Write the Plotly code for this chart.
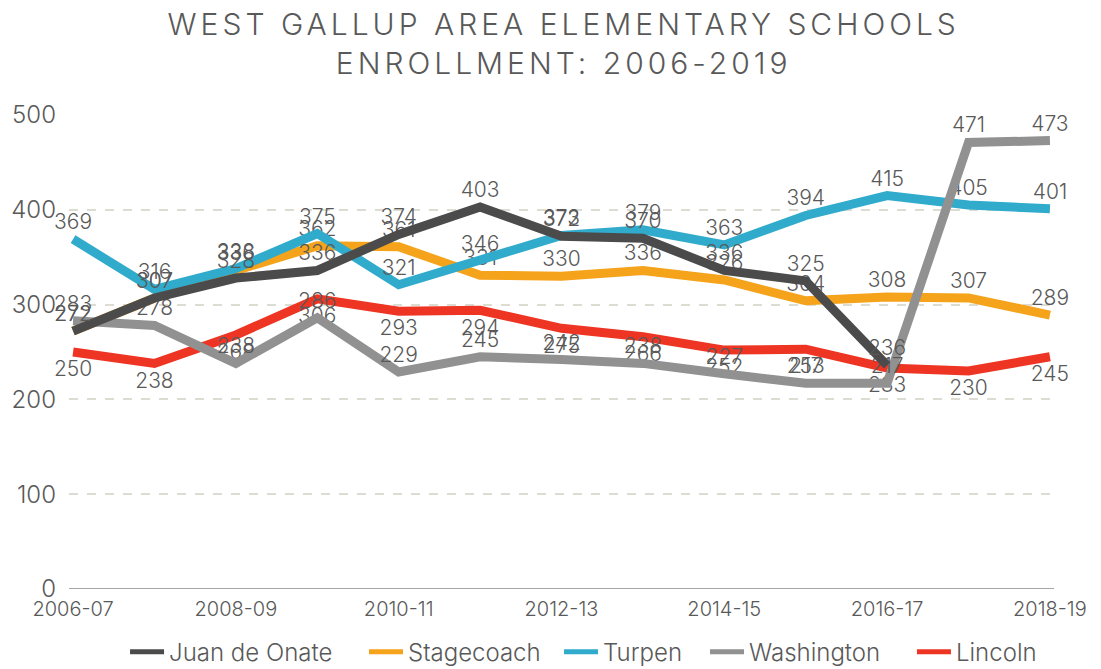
import plotly.graph_objects as go

years = ["2006-07", "2007-08", "2008-09", "2009-10", "2010-11", "2011-12", "2012-13",
         "2013-14", "2014-15", "2015-16", "2016-17", "2017-18", "2018-19"]
x_tick_labels = ["2006-07", "2008-09", "2010-11", "2012-13", "2014-15", "2016-17", "2018-19"]

juan_de_onate = [272, 307, 328, 336, 374, 403, 372, 370, 336, 325, 236, None, None]
stagecoach = [272, 307, 336, 362, 361, 331, 330, 336, 326, 304, 308, 307, 289]
turpen = [369, 316, 338, 375, 321, 346, 373, 379, 363, 394, 415, 405, 401]
washington = [283, 278, 238, 286, 229, 245, 242, 238, 227, 217, 217, 471, 473]
lincoln = [250, 238, 268, 306, 293, 294, 275, 266, 252, 253, 233, 230, 245]

series = [
    ("Juan de Onate", juan_de_onate, "#4b4b4b", "top center"),
    ("Stagecoach", stagecoach, "#f5a31a", "top center"),
    ("Turpen", turpen, "#31abcb", "top center"),
    ("Washington", washington, "#919191", "top center"),
    ("Lincoln", lincoln, "#ee3524", "bottom center"),
]
draw_order = ["Lincoln", "Stagecoach", "Turpen", "Washington", "Juan de Onate"]
legend_x = [0.0569, 0.2995, 0.4975, 0.6457, 0.8558]

FONT = "Inter, Lato, sans-serif"
TXT = "#595959"

fig = go.Figure()
lookup = {s[0]: s for s in series}
for name in draw_order:
    _, vals, color, pos = lookup[name]
    fig.add_trace(go.Scatter(
        x=years, y=vals, name=name, mode="lines+markers+text",
        line=dict(color=color, width=9),
        marker=dict(size=(12 if pos.startswith("bottom") else 6), opacity=0, color=color),
        text=[("" if v is None else str(v)) for v in vals],
        textposition=pos,
        textfont=dict(family=FONT, size=21, color=TXT, weight=300),
        showlegend=False,
        connectgaps=False,
        cliponaxis=False,
    ))

legend_layout = {}
for i, (name, vals, color, pos) in enumerate(series):
    lg = "legend" if i == 0 else f"legend{i + 1}"
    fig.add_trace(go.Scatter(
        x=[None], y=[None], name=name, mode="lines",
        line=dict(color=color, width=5), showlegend=True, legend=lg,
    ))
    legend_layout[lg] = dict(
        orientation="h", x=legend_x[i], xanchor="left", y=-0.133, yanchor="middle",
        font=dict(family=FONT, size=24, color=TXT, weight=300),
        itemwidth=34, bgcolor="rgba(0,0,0,0)",
    )

title_txt = ('<span style="letter-spacing:4px">WEST GALLUP AREA ELEMENTARY SCHOOLS</span><br>'
             '<span style="letter-spacing:4px">ENROLLMENT: 2006-2019</span>')

fig.update_layout(
    width=1101, height=669,
    paper_bgcolor="white", plot_bgcolor="white",
    margin=dict(l=69, r=47, t=115, b=80, autoexpand=False),
    title=dict(text=title_txt, x=0.512, xanchor="center", y=0.948, yanchor="top",
               font=dict(family=FONT, size=30, color=TXT, weight=300)),
    font=dict(family=FONT, color=TXT),
    showlegend=True,
    xaxis=dict(
        type="category", categoryorder="array", categoryarray=years,
        range=[-0.05, 12.05],
        tickmode="array", tickvals=x_tick_labels, ticktext=x_tick_labels,
        tickfont=dict(family=FONT, size=20, color=TXT, weight=300),
        showgrid=False, zeroline=False, showline=False, ticks="", ticklabelstandoff=6,
    ),
    yaxis=dict(
        range=[0, 500], tickvals=[0, 100, 200, 300, 400, 500],
        tickfont=dict(family=FONT, size=24, color=TXT, weight=300),
        showgrid=True, gridcolor="#dcdcd2", gridwidth=1.5, griddash="dash",
        zeroline=False, showline=False, ticks="", ticklabelstandoff=12,
    ),
    hovermode=False,
    **legend_layout,
)
fig.add_shape(type="line", xref="paper", yref="y", x0=0, x1=1, y0=0, y1=0,
              line=dict(color="#a6a6a6", width=2), layer="below")

fig.write_html("out.html", config={"displayModeBar": False},
               post_script="document.body.style.margin='0';")
